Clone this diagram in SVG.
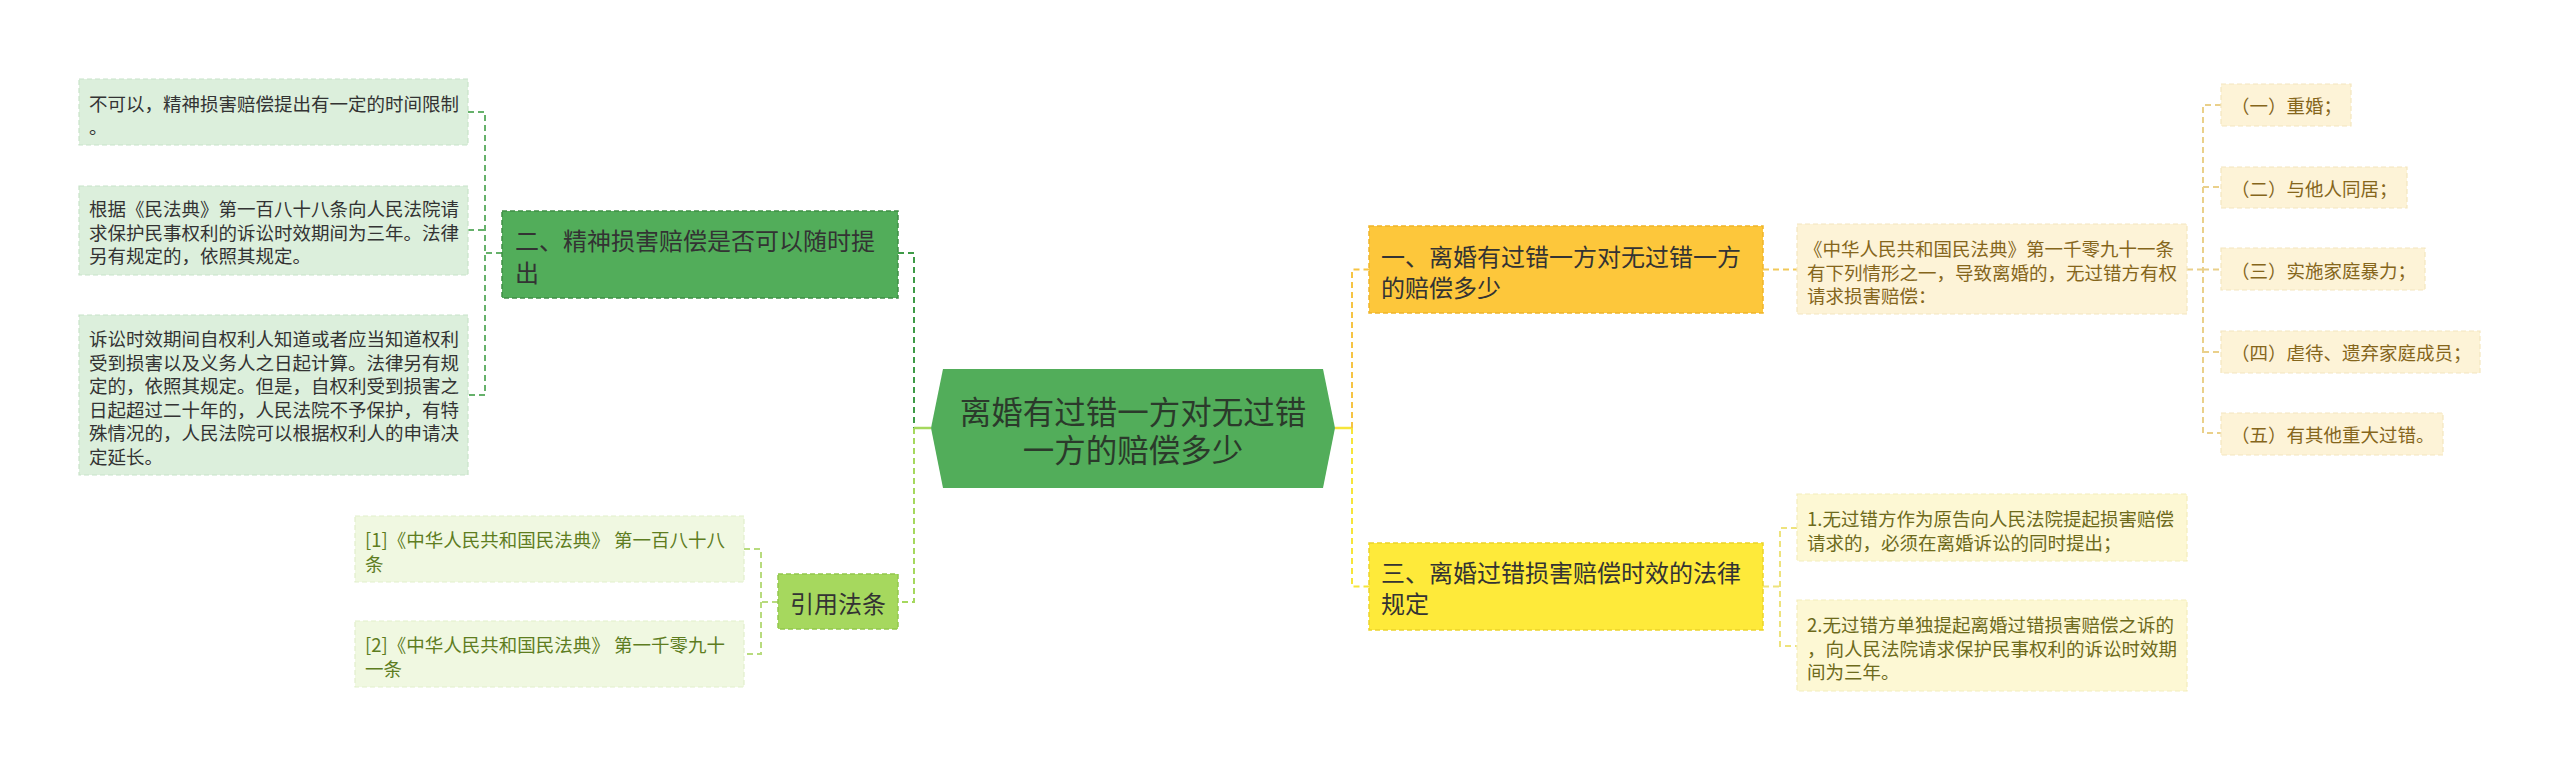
<svg xmlns="http://www.w3.org/2000/svg" width="2560" height="770" viewBox="0 0 2560 770">
<style>
text{font-family:"Noto Sans CJK SC","Noto Sans",sans-serif;dominant-baseline:central}
.t18{font-size:18.5px}
.t24{font-size:24px}
.root{font-size:31.5px;fill:#2b3a2b}
.dk{fill:#333333}
.lg{fill:#dcefdc;stroke:#c8e3c9;stroke-width:1.2;stroke-dasharray:5 3}
.lgt{fill:#333333}
.ly{fill:#f0f8e1;stroke:#e2efcc;stroke-width:1.2;stroke-dasharray:5 3}
.lyt{fill:#5e7d1f}
.la{fill:#fdf3d7;stroke:#f4e6bf;stroke-width:1.2;stroke-dasharray:5 3}
.lat{fill:#85661c}
.lz{fill:#fdf8d4;stroke:#f3edbb;stroke-width:1.2;stroke-dasharray:5 3}
.lzt{fill:#6d6a1c}
.c{fill:none;stroke-width:2;stroke-dasharray:6 4}
</style>
<rect width="2560" height="770" fill="#ffffff"/>
<g id="connectors">
  <!-- root to left branches -->
  <path class="c" d="M898 253 H914 V428" stroke="#3e9a47"/>
  <path class="c" d="M914 428 V602 H898" stroke="#a5d85d"/>
  <path d="M914 428 H931" stroke="#a5d85d" stroke-width="2.5" fill="none"/>
  <!-- root to right branches -->
  <path d="M1335 428 H1352" stroke="#f6e53a" stroke-width="2.5" fill="none"/>
  <path class="c" d="M1352 428 V269.5 H1369" stroke="#f6c443"/>
  <path class="c" d="M1352 428 V586.5 H1369" stroke="#f6e53a"/>
  <!-- branch 二 to leaves -->
  <path class="c" d="M502 253 H485 M468 112 H485 V395 H468 M468 230 H485" stroke="#66b16b" stroke-width="1.6"/>
  <!-- 引用法条 to leaves -->
  <path class="c" d="M778 602 H761 M744 549 H761 V654 H744" stroke="#b8db7e" stroke-width="1.6"/>
  <!-- branch 一 to leaf -->
  <path class="c" d="M1763 269.5 H1797" stroke="#f1c95a" stroke-width="1.6"/>
  <!-- leaf to sub-leaves -->
  <path class="c" d="M2187 269.5 H2203 M2221 105 H2203 V433 H2221 M2203 187 H2221 M2203 269.5 H2221 M2203 352 H2221" stroke="#ead08a" stroke-width="1.6"/>
  <!-- branch 三 to leaves -->
  <path class="c" d="M1763 586.5 H1780 M1797 528 H1780 V646 H1797" stroke="#eee37c" stroke-width="1.6"/>
</g>
<g id="root">
  <polygon points="943,369 1323,369 1335,428 1323,488 943,488 931,428" fill="#52ad5a"/>
  <text class="root" x="1133" y="410" text-anchor="middle">离婚有过错一方对无过错</text>
  <text class="root" x="1133" y="448" text-anchor="middle">一方的赔偿多少</text>
</g>
<g id="branch-2">
  <rect x="502" y="211" width="396" height="87" fill="#52ad5a" stroke="#3f8f46" stroke-width="1.5" stroke-dasharray="5 3"/>
  <text class="t24 dk" x="515" y="239">二、精神损害赔偿是否可以随时提</text>
  <text class="t24 dk" x="515" y="271">出</text>
</g>
<g id="leaf-2-1">
  <rect class="lg" x="79" y="79" width="389" height="66"/>
  <text class="t18 lgt" x="89" y="103">不可以，精神损害赔偿提出有一定的时间限制</text>
  <text class="t18 lgt" x="89" y="126">。</text>
</g>
<g id="leaf-2-2">
  <rect class="lg" x="79" y="186" width="389" height="89"/>
  <text class="t18 lgt" x="89" y="208">根据《民法典》第一百八十八条向人民法院请</text>
  <text class="t18 lgt" x="89" y="231.5">求保护民事权利的诉讼时效期间为三年。法律</text>
  <text class="t18 lgt" x="89" y="255">另有规定的，依照其规定。</text>
</g>
<g id="leaf-2-3">
  <rect class="lg" x="79" y="315" width="389" height="160"/>
  <text class="t18 lgt" x="89" y="338">诉讼时效期间自权利人知道或者应当知道权利</text>
  <text class="t18 lgt" x="89" y="361.5">受到损害以及义务人之日起计算。法律另有规</text>
  <text class="t18 lgt" x="89" y="385">定的，依照其规定。但是，自权利受到损害之</text>
  <text class="t18 lgt" x="89" y="408.5">日起超过二十年的，人民法院不予保护，有特</text>
  <text class="t18 lgt" x="89" y="432">殊情况的，人民法院可以根据权利人的申请决</text>
  <text class="t18 lgt" x="89" y="455.5">定延长。</text>
</g>
<g id="branch-cite">
  <rect x="778" y="574" width="120" height="55" fill="#a6d85e" stroke="#93c84c" stroke-width="1.5" stroke-dasharray="5 3"/>
  <text class="t24 dk" x="838" y="602" text-anchor="middle">引用法条</text>
</g>
<g id="leaf-cite-1">
  <rect class="ly" x="355" y="516" width="389" height="66"/>
  <text class="t18 lyt" x="365" y="539">[1]《中华人民共和国民法典》 第一百八十八</text>
  <text class="t18 lyt" x="365" y="563">条</text>
</g>
<g id="leaf-cite-2">
  <rect class="ly" x="355" y="621" width="389" height="66"/>
  <text class="t18 lyt" x="365" y="644">[2]《中华人民共和国民法典》 第一千零九十</text>
  <text class="t18 lyt" x="365" y="668">一条</text>
</g>
<g id="branch-1">
  <rect x="1369" y="226" width="394" height="87" fill="#fdc73b" stroke="#efb52a" stroke-width="1.5" stroke-dasharray="5 3"/>
  <text class="t24 dk" x="1381" y="255">一、离婚有过错一方对无过错一方</text>
  <text class="t24 dk" x="1381" y="286">的赔偿多少</text>
</g>
<g id="leaf-1-1">
  <rect class="la" x="1797" y="224" width="390" height="90"/>
  <text class="t18 lat" x="1804" y="248">《中华人民共和国民法典》第一千零九十一条</text>
  <text class="t18 lat" x="1807" y="271.5">有下列情形之一，导致离婚的，无过错方有权</text>
  <text class="t18 lat" x="1807" y="295">请求损害赔偿：</text>
</g>
<g id="sub-1">
  <rect class="la" x="2221" y="84" width="130" height="42"/>
  <text class="t18 lat" x="2231" y="105">（一）重婚；</text>
</g>
<g id="sub-2">
  <rect class="la" x="2221" y="167" width="186" height="41"/>
  <text class="t18 lat" x="2231" y="187.5">（二）与他人同居；</text>
</g>
<g id="sub-3">
  <rect class="la" x="2221" y="248" width="204" height="42"/>
  <text class="t18 lat" x="2231" y="269.5">（三）实施家庭暴力；</text>
</g>
<g id="sub-4">
  <rect class="la" x="2221" y="331" width="259" height="42"/>
  <text class="t18 lat" x="2231" y="352">（四）虐待、遗弃家庭成员；</text>
</g>
<g id="sub-5">
  <rect class="la" x="2221" y="413" width="222" height="42"/>
  <text class="t18 lat" x="2231" y="434">（五）有其他重大过错。</text>
</g>
<g id="branch-3">
  <rect x="1369" y="543" width="394" height="87" fill="#feea3a" stroke="#ecd42a" stroke-width="1.5" stroke-dasharray="5 3"/>
  <text class="t24 dk" x="1381" y="571">三、离婚过错损害赔偿时效的法律</text>
  <text class="t24 dk" x="1381" y="602">规定</text>
</g>
<g id="leaf-3-1">
  <rect class="lz" x="1797" y="494" width="390" height="67"/>
  <text class="t18 lzt" x="1807" y="518">1.无过错方作为原告向人民法院提起损害赔偿</text>
  <text class="t18 lzt" x="1807" y="541.5">请求的，必须在离婚诉讼的同时提出；</text>
</g>
<g id="leaf-3-2">
  <rect class="lz" x="1797" y="600" width="390" height="91"/>
  <text class="t18 lzt" x="1807" y="624">2.无过错方单独提起离婚过错损害赔偿之诉的</text>
  <text class="t18 lzt" x="1807" y="647.5">，向人民法院请求保护民事权利的诉讼时效期</text>
  <text class="t18 lzt" x="1807" y="671">间为三年。</text>
</g>
</svg>
